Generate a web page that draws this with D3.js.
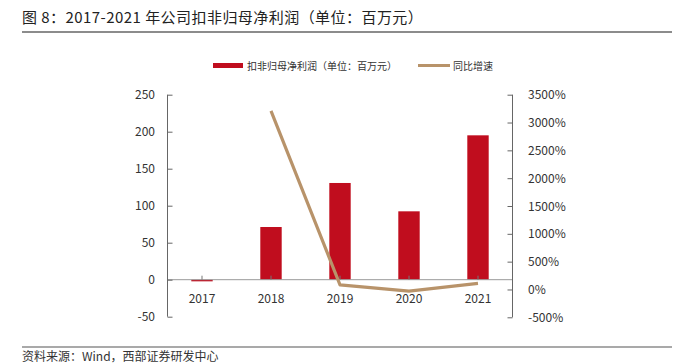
<!DOCTYPE html>
<html><head><meta charset="utf-8">
<script src="https://cdn.jsdelivr.net/npm/d3@7"></script>
<style>body{margin:0;background:#fff;} svg{display:block;}</style>
</head><body>
<script>
const categories = ["2017","2018","2019","2020","2021"];
const profit = [-2.2, 71.2, 130.7, 92.4, 195.1];
const growth = [null, 3210, 84, -29, 111];
const leftTicks = [-50,0,50,100,150,200,250];
const rightTicks = [-500,0,500,1000,1500,2000,2500,3000,3500];
const titleText = "图 8：2017-2021 年公司扣非归母净利润（单位：百万元）";
const sourceText = "资料来源：Wind，西部证券研发中心";
const legendLabels = ["扣非归母净利润（单位：百万元）","同比增速"];

const W=690,H=364;
const font = "'Noto Sans CJK SC', 'Liberation Sans', sans-serif";
const svg = d3.select("body").append("svg").attr("width",W).attr("height",H);

// title
svg.append("text").attr("x",22).attr("y",23).attr("font-family",font).attr("font-size",15)
  .attr("letter-spacing",0.45).attr("fill","#222").text(titleText);
svg.append("line").attr("x1",22).attr("x2",672).attr("y1",32).attr("y2",32).attr("stroke","#8c8c8c").attr("stroke-width",2);

// scales
const x = d3.scaleBand().domain(categories).range([167.5,512.5]).paddingInner(0.69).paddingOuter(0.345);
const yL = d3.scaleLinear().domain([-50,250]).range([316.7,94.7]);
const yR = d3.scaleLinear().domain([-500,3500]).range([317.3,94.7]);
const cx = d => x(d)+x.bandwidth()/2;

// bars
svg.append("g").selectAll("rect").data(categories).join("rect")
  .attr("x",d=>x(d)).attr("width",x.bandwidth())
  .attr("y",(d,i)=>Math.min(yL(profit[i]),yL(0)))
  .attr("height",(d,i)=>Math.abs(yL(profit[i])-yL(0)))
  .attr("fill","#C00D1E");

// category axis
const xAxis = d3.axisTop(x).tickSize(4).tickFormat("");
const gx = svg.append("g").attr("transform",`translate(0,${yL(0)})`).call(xAxis);
gx.select(".domain").attr("d",`M167.5,0H512.5`).attr("stroke","#999");
gx.selectAll(".tick line").attr("stroke","#777");
categories.forEach(c=>{
  svg.append("text").attr("x",cx(c)).attr("y",303).attr("text-anchor","middle")
    .attr("font-family",font).attr("font-size",12).attr("fill","#333").text(c);
});

// left axis
const gl = svg.append("g").attr("transform","translate(167.5,0)")
  .call(d3.axisRight(yL).tickValues(leftTicks).tickSize(5).tickFormat(""));
gl.select(".domain").attr("d","M0,94.7V316.7").attr("stroke","#666");
gl.selectAll(".tick line").attr("stroke","#666");
leftTicks.forEach(t=>{
  svg.append("text").attr("x",155).attr("y",yL(t)+4.5).attr("text-anchor","end")
    .attr("font-family",font).attr("font-size",12).attr("fill","#333").text(t);
});

// right axis
const gr = svg.append("g").attr("transform","translate(512.5,0)")
  .call(d3.axisLeft(yR).tickValues(rightTicks).tickSize(5).tickFormat(""));
gr.select(".domain").attr("d","M0,94.7V317.3").attr("stroke","#666");
gr.selectAll(".tick line").attr("stroke","#666");
rightTicks.forEach(t=>{
  svg.append("text").attr("x",528).attr("y",yR(t)+4.5).attr("text-anchor","start")
    .attr("font-family",font).attr("font-size",12).attr("fill","#333").text(t+"%");
});

// line
const line = d3.line().defined(d=>d.v!==null).x(d=>cx(d.c)).y(d=>yR(d.v));
svg.append("path").datum(categories.map((c,i)=>({c,v:growth[i]})))
  .attr("d",line).attr("fill","none").attr("stroke","#B8936A").attr("stroke-width",3.2)
  .attr("stroke-linejoin","round");

// legend
svg.append("rect").attr("x",213).attr("y",63).attr("width",30).attr("height",5).attr("fill","#C00D1E");
svg.append("text").attr("x",247).attr("y",69.5).attr("font-family",font).attr("font-size",10).attr("fill","#333").text(legendLabels[0]);
svg.append("line").attr("x1",418).attr("x2",450).attr("y1",65.5).attr("y2",65.5).attr("stroke","#B8936A").attr("stroke-width",3);
svg.append("text").attr("x",453).attr("y",69.5).attr("font-family",font).attr("font-size",10).attr("fill","#333").text(legendLabels[1]);

// footer
svg.append("line").attr("x1",22).attr("x2",672).attr("y1",347).attr("y2",347).attr("stroke","#8c8c8c").attr("stroke-width",1.5);
svg.append("text").attr("x",22).attr("y",361).attr("font-family",font).attr("font-size",12).attr("fill","#333").text(sourceText);
</script>
</body></html>
